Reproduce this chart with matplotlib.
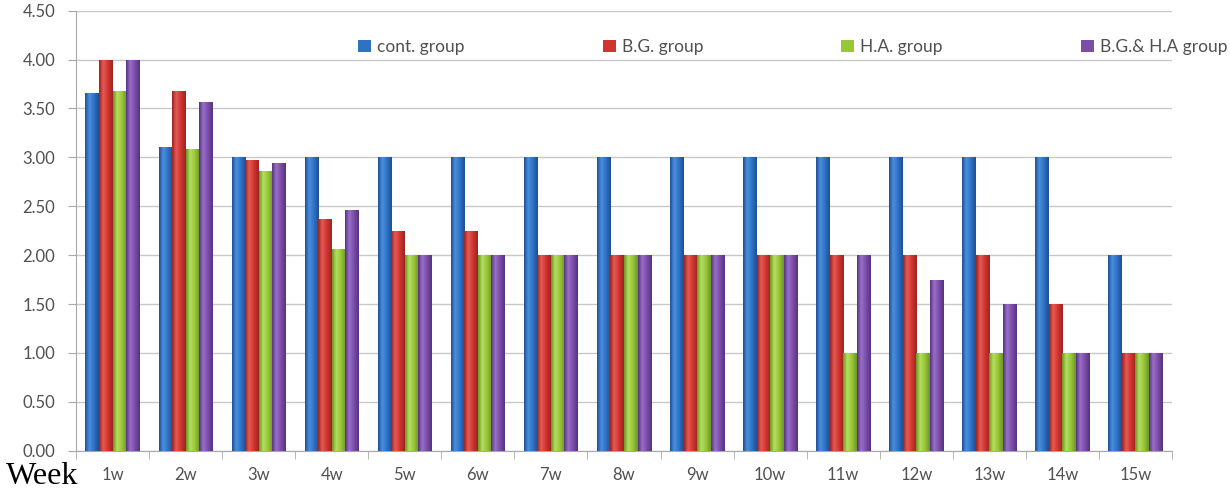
import matplotlib
matplotlib.use("Agg")
import matplotlib.pyplot as plt
from matplotlib.colors import LinearSegmentedColormap
import numpy as np

weeks = ["1w", "2w", "3w", "4w", "5w", "6w", "7w", "8w", "9w", "10w", "11w", "12w", "13w", "14w", "15w"]
series_names = ["cont. group", "B.G. group", "H.A. group", "B.G.& H.A group"]
cont = [3.66, 3.11, 3.00, 3.00, 3.00, 3.00, 3.00, 3.00, 3.00, 3.00, 3.00, 3.00, 3.00, 3.00, 2.00]
bg = [4.00, 3.68, 2.97, 2.37, 2.25, 2.25, 2.00, 2.00, 2.00, 2.00, 2.00, 2.00, 2.00, 1.50, 1.00]
ha = [3.68, 3.09, 2.86, 2.06, 2.00, 2.00, 2.00, 2.00, 2.00, 2.00, 1.00, 1.00, 1.00, 1.00, 1.00]
bgha = [4.00, 3.57, 2.94, 2.46, 2.00, 2.00, 2.00, 2.00, 2.00, 2.00, 2.00, 1.75, 1.50, 1.00, 1.00]
yticks = [0.0, 0.5, 1.0, 1.5, 2.0, 2.5, 3.0, 3.5, 4.0, 4.5]

colors = ["#2F72C4", "#D0342F", "#97C63A", "#7A4DA8"]
shades = [("#1E4F93", "#4A8FE0", "#2F72C4", "#1E4F93"),
          ("#9A2420", "#E65A55", "#D0342F", "#9A2420"),
          ("#6B9722", "#B5DE5E", "#97C63A", "#6B9722"),
          ("#553380", "#9A70C6", "#7A4DA8", "#553380")]

TXT = "#505050"
FONT = "Lato"

fig = plt.figure(figsize=(12.3, 4.93), dpi=100)
ax = fig.add_axes([76/1230, 1 - 450.7/493, (1172-76)/1230, (450.7-10.7)/493])

x = np.arange(len(weeks))
w = 0.185
data = [cont, bg, ha, bgha]
grad = np.linspace(0, 1, 64).reshape(1, -1)
for i, (vals, name) in enumerate(zip(data, series_names)):
    bars = ax.bar(x + (i - 1.5) * w, vals, width=w, color=colors[i], edgecolor="none",
                  linewidth=0, label=name, zorder=3)
    cmap = LinearSegmentedColormap.from_list(
        f"c{i}", [(0.0, shades[i][0]), (0.3, shades[i][1]), (0.65, shades[i][2]), (1.0, shades[i][3])])
    for b in bars:
        x0, y0, bw, bh = b.get_x(), b.get_y(), b.get_width(), b.get_height()
        im = ax.imshow(grad, extent=(x0, x0 + bw, y0, y0 + bh), aspect="auto", cmap=cmap,
                       zorder=3.5, interpolation="bilinear")
        im.set_clip_path(b)

ax.set_xlim(-0.5, len(weeks) - 0.5)
ax.set_ylim(0, 4.5)
ax.set_yticks(yticks)
ax.set_yticklabels([f"{v:.2f}" for v in yticks], fontsize=12, color=TXT, family=FONT)
ax.yaxis.grid(True, color="#C8C8C8", linewidth=1.0, zorder=0)
ax.set_axisbelow(True)

ax.set_xticks(x)
ax.set_xticklabels(weeks, fontsize=12, color=TXT, family=FONT)
ax.tick_params(axis="x", length=0, pad=12)
ax.set_xticks(np.arange(-0.5, len(weeks), 1), minor=True)
ax.tick_params(axis="x", which="minor", length=6, color="#A8A8A8")
ax.tick_params(axis="y", length=6, color="#A8A8A8", pad=9)

for s in ["top", "right"]:
    ax.spines[s].set_visible(False)
for s in ["left", "bottom"]:
    ax.spines[s].set_color("#A8A8A8")

leg = fig.legend(loc="center left", bbox_to_anchor=(358/1230, 1 - 47/493), ncol=4, frameon=False,
                 handlelength=0.75, handleheight=0.65, handletextpad=0.35, columnspacing=7.95,
                 prop={"family": FONT, "size": 12.5}, borderaxespad=0, borderpad=0)
for t in leg.get_texts():
    t.set_color(TXT)

fig.text(6/1230, 1 - 477/493, "Week", family="Liberation Serif", fontsize=23, va="center", ha="left")

fig.savefig("out.png", dpi=100, facecolor="white")
